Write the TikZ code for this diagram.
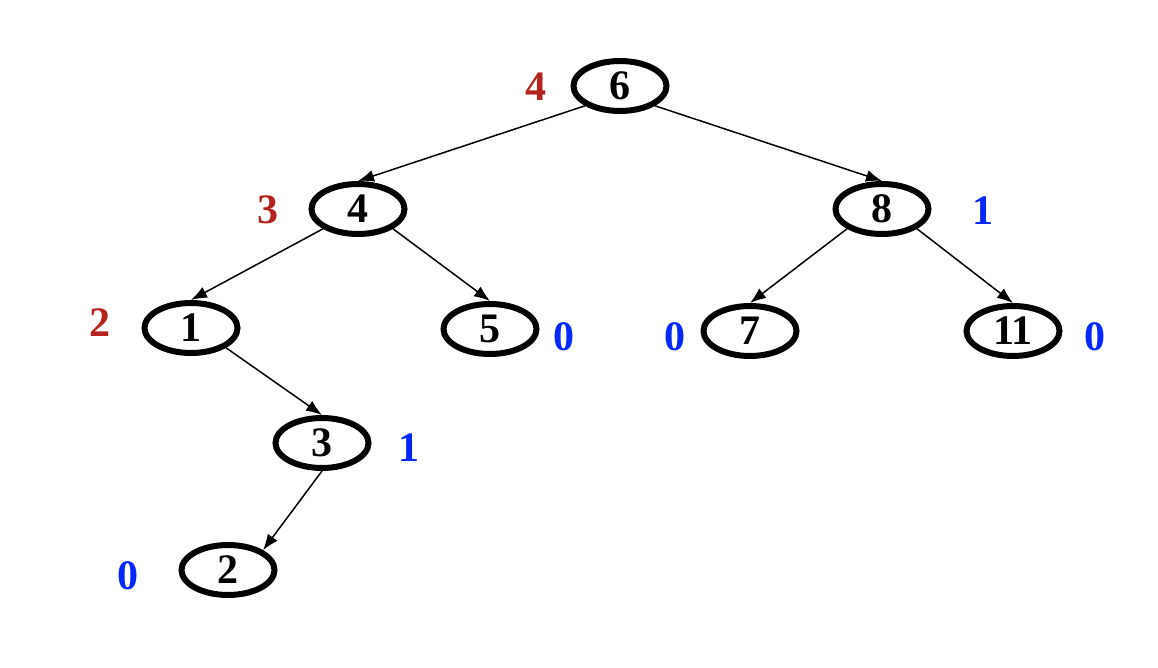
\documentclass[tikz,border=0pt]{standalone}
\usepackage{fontspec}
\setmainfont{Liberation Serif}
\usetikzlibrary{shapes.geometric,arrows.meta}
\definecolor{hred}{RGB}{180,36,30}
\definecolor{hblue}{RGB}{5,40,250}
\begin{document}
\begin{tikzpicture}[x=1pt,y=-1pt,
  tnode/.style={ellipse,draw=black,line width=6pt,minimum width=93pt,minimum height=50pt,inner sep=0pt,font=\fontsize{42}{42}\selectfont\bfseries},
  edge/.style={line width=1.5pt,-{Latex[length=16pt,width=12pt]}},
  rlab/.style={text=hred,inner sep=0pt,font=\fontsize{42}{42}\selectfont\bfseries},
  blab/.style={text=hblue,inner sep=0pt,font=\fontsize{42}{42}\selectfont\bfseries}]
\useasboundingbox (0,0) rectangle (1158,668);
\node[tnode] (n6) at (620,86) {6};
\node[tnode] (n4) at (358,209) {4};
\node[tnode] (n8) at (882,209) {8};
\node[tnode] (n1) at (191,328) {1};
\node[tnode] (n5) at (490,329) {5};
\node[tnode] (n7) at (750,331) {7};
\node[tnode] (n11) at (1013,331) {11};
\node[tnode] (n3) at (322,443) {3};
\node[tnode] (n2) at (228,570) {2};
\draw[edge] (n6.south west) -- (n4.north);
\draw[edge] (n6.south east) -- (n8.north);
\draw[edge] (n4.south west) -- (n1.north);
\draw[edge] (n4.south east) -- (n5.north);
\draw[edge] (n8.south west) -- (n7.north);
\draw[edge] (n8.south east) -- (n11.north);
\draw[edge] (n1.south east) -- (n3.north);
\draw[edge] (n3.south) -- (n2.north east);
\node[rlab] (l6) at (536,87) {4};
\node[rlab] (l4) at (268,210) {3};
\node[blab] (l8) at (983,211) {1};
\node[rlab] (l1) at (100,323) {2};
\node[blab] (l5) at (564,337) {0};
\node[blab] (l7) at (675,337) {0};
\node[blab] (l11) at (1095,337) {0};
\node[blab] (l3) at (409,448) {1};
\node[blab] (l2) at (128,576) {0};
\end{tikzpicture}
\end{document}
